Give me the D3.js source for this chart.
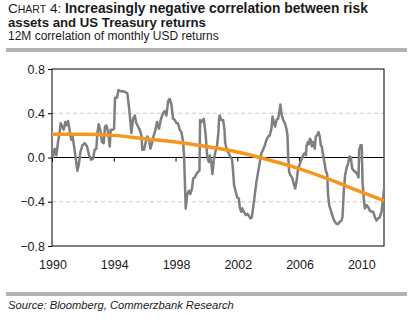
<!DOCTYPE html>
<html>
<head>
<meta charset="utf-8">
<script src="https://cdn.jsdelivr.net/npm/d3@7"></script>
<style>
  body { margin: 0; background: #fff; }
  svg { display: block; font-family: "Liberation Sans", Arial, sans-serif; }
</style>
</head>
<body>
<svg width="416" height="323"></svg>
<script>
// 12M correlation (decimal year, value)
const corrYears = [
  1990.00, 1990.06, 1990.17, 1990.28, 1990.39, 1990.50, 1990.56, 1990.67, 1990.76, 1990.86,
  1990.93, 1991.04, 1991.14, 1991.25, 1991.32, 1991.40, 1991.53, 1991.64, 1991.73, 1991.84,
  1991.97, 1992.12, 1992.27, 1992.40, 1992.53, 1992.66, 1992.76, 1992.87, 1992.94, 1993.02,
  1993.13, 1993.24, 1993.35, 1993.43, 1993.52, 1993.63, 1993.74, 1993.80, 1993.91, 1994.02,
  1994.08, 1994.21, 1994.30, 1994.43, 1994.60, 1994.77, 1994.88, 1994.99, 1995.08, 1995.14,
  1995.25, 1995.36, 1995.46, 1995.57, 1995.68, 1995.79, 1995.85, 1995.96, 1996.07, 1996.18,
  1996.29, 1996.37, 1996.48, 1996.59, 1996.70, 1996.80, 1996.93, 1997.04, 1997.19, 1997.30,
  1997.41, 1997.52, 1997.62, 1997.73, 1997.84, 1997.95, 1998.06, 1998.16, 1998.27, 1998.38,
  1998.49, 1998.55, 1998.62, 1998.66, 1998.75, 1998.86, 1998.96, 1999.07, 1999.14, 1999.24,
  1999.35, 1999.46, 1999.55, 1999.59, 1999.68, 1999.83, 1999.89, 1999.96, 2000.04, 2000.15,
  2000.22, 2000.32, 2000.39, 2000.48, 2000.58, 2000.69, 2000.78, 2000.82, 2000.86, 2000.95,
  2001.08, 2001.17, 2001.21, 2001.30, 2001.40, 2001.51, 2001.58, 2001.66, 2001.73, 2001.79,
  2001.90, 2001.99, 2002.10, 2002.16, 2002.25, 2002.33, 2002.42, 2002.55, 2002.66, 2002.76,
  2002.85, 2002.94, 2003.02, 2003.13, 2003.24, 2003.35, 2003.46, 2003.56, 2003.67, 2003.78,
  2003.89, 2004.00, 2004.10, 2004.21, 2004.28, 2004.37, 2004.45, 2004.54, 2004.64, 2004.71,
  2004.79, 2004.88, 2004.97, 2005.08, 2005.18, 2005.25, 2005.29, 2005.36, 2005.44, 2005.55,
  2005.66, 2005.75, 2005.83, 2005.92, 2006.00, 2006.09, 2006.18, 2006.26, 2006.37, 2006.44,
  2006.48, 2006.57, 2006.63, 2006.70, 2006.76, 2006.83, 2006.91, 2007.02, 2007.08, 2007.17,
  2007.26, 2007.34, 2007.41, 2007.47, 2007.56, 2007.65, 2007.73, 2007.82, 2007.88, 2007.95,
  2008.06, 2008.14, 2008.27, 2008.42, 2008.53, 2008.64, 2008.75, 2008.81, 2008.90, 2008.98,
  2009.07, 2009.18, 2009.27, 2009.35, 2009.44, 2009.55, 2009.65, 2009.76, 2009.85, 2009.89,
  2009.98, 2010.06, 2010.11, 2010.19, 2010.26, 2010.37, 2010.48, 2010.58, 2010.69, 2010.80,
  2010.91, 2011.02, 2011.12, 2011.23, 2011.34, 2011.45, 2011.50
];
const corrValues = [
  0.02, 0.005, 0.08, 0.02, 0.14, 0.23, 0.31, 0.28, 0.25, 0.32,
  0.29, 0.33, 0.25, 0.16, 0.20, 0.13, 0.00, -0.12, -0.07, 0.05,
  0.11, 0.13, 0.10, 0.02, -0.02, -0.01, 0.07, 0.08, 0.22, 0.30,
  0.25, 0.14, 0.13, 0.28, 0.29, 0.23, 0.10, 0.25, 0.25, 0.26,
  0.54, 0.54, 0.61, 0.60, 0.60, 0.59, 0.58, 0.45, 0.32, 0.22,
  0.35, 0.38, 0.31, 0.28, 0.25, 0.20, 0.07, 0.07, 0.14, 0.19,
  0.16, 0.08, 0.13, 0.20, 0.25, 0.32, 0.26, 0.34, 0.40, 0.42,
  0.38, 0.51, 0.53, 0.48, 0.35, 0.34, 0.31, 0.31, 0.25, 0.23,
  0.14, 0.02, -0.28, -0.46, -0.34, -0.30, -0.33, -0.28, -0.19, -0.18,
  -0.15, -0.13, -0.12, 0.34, 0.32, 0.35, 0.28, 0.19, 0.02, -0.04,
  0.02, -0.05, -0.15, -0.02, 0.05, 0.11, 0.23, 0.35, 0.38, 0.34,
  0.34, 0.25, 0.14, 0.08, 0.05, 0.02, 0.00, -0.02, -0.13, -0.25,
  -0.31, -0.36, -0.37, -0.45, -0.49, -0.46, -0.49, -0.52, -0.51, -0.53,
  -0.55, -0.54, -0.46, -0.34, -0.22, -0.13, -0.04, 0.04, 0.07, 0.11,
  0.16, 0.19, 0.20, 0.26, 0.37, 0.31, 0.28, 0.34, 0.35, 0.40,
  0.48, 0.38, 0.34, 0.31, 0.26, 0.20, 0.02, -0.13, -0.16, -0.18,
  -0.24, -0.28, -0.22, -0.12, -0.08, -0.04, -0.01, 0.02, 0.04, 0.02,
  0.10, 0.14, 0.12, 0.17, 0.16, 0.10, 0.14, 0.08, 0.19, 0.20,
  0.23, 0.19, 0.11, 0.10, 0.02, -0.05, -0.12, -0.15, -0.34, -0.43,
  -0.48, -0.52, -0.57, -0.60, -0.60, -0.58, -0.57, -0.54, -0.30, -0.16,
  -0.10, -0.05, 0.01, 0.00, -0.10, -0.12, -0.13, -0.15, -0.18, 0.07,
  0.11, 0.11, -0.22, -0.37, -0.46, -0.43, -0.45, -0.48, -0.49, -0.49,
  -0.54, -0.57, -0.55, -0.54, -0.49, -0.37, -0.28
];

// trend line (orange)
const trendYears = [1990, 1992, 1994, 1996, 1998, 2000, 2002, 2004, 2006, 2008, 2010, 2011.5];
const trendValues = [0.21, 0.21, 0.20, 0.17, 0.14, 0.10, 0.05, -0.02, -0.10, -0.20, -0.31, -0.39];

const yTicks = [0.8, 0.4, 0.0, -0.4, -0.8];
const xTicks = [1990, 1994, 1998, 2002, 2006, 2010];

const svg = d3.select('svg');
const plotL = 52, plotR = 384, plotT = 69, plotB = 246;

const x = d3.scaleLinear().domain([1990, 2011.5]).range([plotL, plotR]);
const y = d3.scaleLinear().domain([-0.8, 0.8]).range([plotB, plotT]);

// header
const title = svg.append('text').attr('x', 8).attr('y', 13).attr('fill', '#1a1a1a').attr('font-size', 13.5);
title.append('tspan').text('C');
title.append('tspan').attr('font-size', 10.5).text('HART');
title.append('tspan').text(' 4: ');
title.append('tspan').attr('font-weight', 'bold').attr('font-size', 13.8)
  .text('Increasingly negative correlation between risk');
svg.append('text').attr('x', 8).attr('y', 27).attr('fill', '#1a1a1a')
  .attr('font-size', 13.2).attr('font-weight', 'bold')
  .text('assets and US Treasury returns');
svg.append('text').attr('x', 8).attr('y', 40).attr('fill', '#1a1a1a')
  .attr('font-size', 12)
  .text('12M correlation of monthly USD returns');

svg.append('rect').attr('x', 6).attr('y', 48).attr('width', 401).attr('height', 4).attr('fill', '#b3b3b3');
svg.append('rect').attr('x', 6).attr('y', 292).attr('width', 401).attr('height', 4).attr('fill', '#b3b3b3');

svg.append('text').attr('x', 8).attr('y', 309).attr('fill', '#1a1a1a')
  .attr('font-size', 11.2).attr('font-style', 'italic')
  .text('Source: Bloomberg, Commerzbank Research');

// dashed grid
svg.append('g')
  .selectAll('line')
  .data([0.4, -0.4])
  .enter()
  .append('line')
  .attr('x1', plotL).attr('x2', plotR)
  .attr('y1', d => y(d)).attr('y2', d => y(d))
  .attr('stroke', '#cccccc')
  .attr('stroke-dasharray', '4,3');

// frame
svg.append('rect')
  .attr('x', plotL).attr('y', plotT)
  .attr('width', plotR - plotL).attr('height', plotB - plotT)
  .attr('fill', 'none').attr('stroke', '#000').attr('stroke-width', 1);

// y axis
const yAxis = svg.append('g')
  .attr('transform', `translate(${plotL},0)`)
  .call(d3.axisLeft(y).tickValues(yTicks).tickSize(4).tickFormat(d3.format('.1f')));
yAxis.select('.domain').remove();
yAxis.selectAll('text').attr('font-size', 12.5).attr('fill', '#1a1a1a')
  .attr('font-family', '"Liberation Sans", Arial, sans-serif');

// zero line with ticks
const zeroAxis = svg.append('g')
  .attr('transform', `translate(0,${y(0)})`)
  .call(d3.axisBottom(x).tickValues(xTicks).tickSize(4).tickFormat(''));
zeroAxis.select('.domain').attr('d', `M${plotL},0H${plotR}`);

// x labels at bottom
svg.append('g')
  .selectAll('text')
  .data(xTicks)
  .enter()
  .append('text')
  .attr('x', d => x(d) + 1)
  .attr('y', 269)
  .attr('text-anchor', 'middle')
  .attr('font-size', 12.5)
  .attr('fill', '#1a1a1a')
  .text(d => d);

// series
const corr = corrYears.map((t, i) => [t, corrValues[i]]);
const trend = trendYears.map((t, i) => [t, trendValues[i]]);

const line = d3.line().x(d => x(d[0])).y(d => y(d[1]));

svg.append('path')
  .attr('d', line(corr))
  .attr('fill', 'none')
  .attr('stroke', '#7f7f7f')
  .attr('stroke-width', 2.5)
  .attr('stroke-linejoin', 'round');

svg.append('path')
  .attr('d', line.curve(d3.curveMonotoneX)(trend))
  .attr('fill', 'none')
  .attr('stroke', '#f7961e')
  .attr('stroke-width', 3.5);
</script>
</body>
</html>
